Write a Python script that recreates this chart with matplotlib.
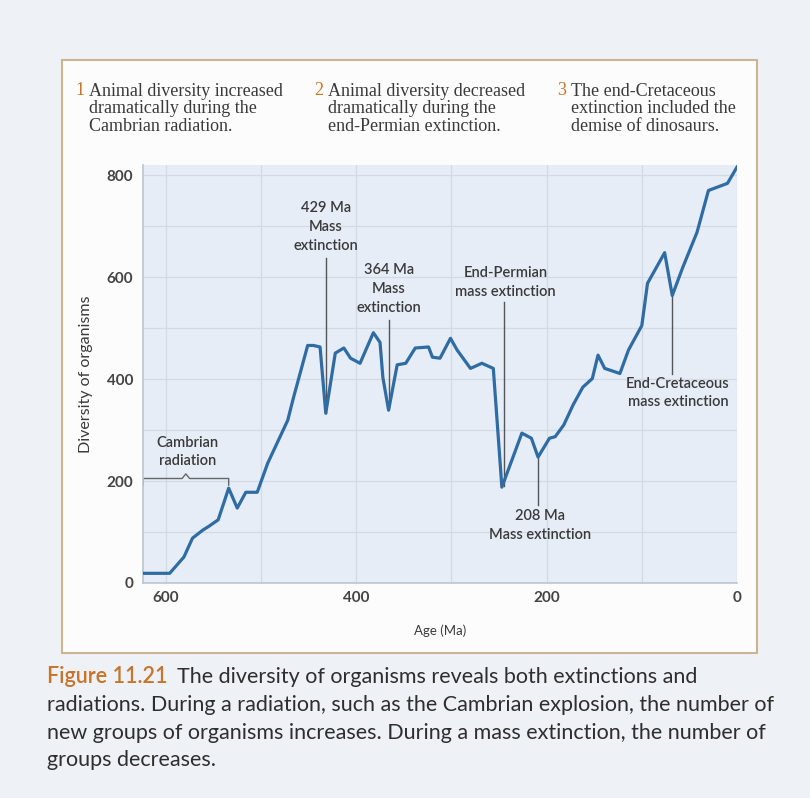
import numpy as np
import matplotlib.pyplot as plt
from matplotlib.patches import Rectangle

# 数据：年龄 (Ma) 与生物多样性
ages = [624, 596, 581, 572, 561, 555, 545, 534, 525, 516, 504, 493, 483, 472,
        466, 451, 445, 438, 432, 422, 413, 406, 396, 382, 375, 372, 366, 357,
        348, 338, 324, 320, 312, 301, 294, 280, 268, 256, 247, 226, 216, 209,
        197, 191, 182, 172, 162, 152, 146, 139, 123, 114, 100, 94, 76, 68,
        57, 42, 30, 10, 0]
diversity = [19, 19, 51, 88, 104, 111, 124, 186, 147, 178, 178, 235, 275, 319,
             363, 466, 466, 463, 333, 451, 461, 441, 431, 491, 472, 403, 339, 428,
             431, 461, 463, 443, 441, 480, 457, 421, 431, 421, 188, 294, 284, 247,
             284, 287, 310, 350, 384, 401, 447, 421, 411, 457, 505, 588, 648, 564,
             619, 688, 770, 784, 816]

x_ticks = [600, 400, 200, 0]
y_ticks = [0, 200, 400, 600, 800]

top_notes = [
    ("1", "Animal diversity increased\ndramatically during the\nCambrian radiation."),
    ("2", "Animal diversity decreased\ndramatically during the\nend-Permian extinction."),
    ("3", "The end-Cretaceous\nextinction included the\ndemise of dinosaurs."),
]

# (文字, 线的x, 文字x, 文字y, 线顶, 线底, 文字在上方?)
events = [
    ("429 Ma\nMass\nextinction", 432, 432, 648, 638, 333, True),
    ("364 Ma\nMass\nextinction", 366, 366, 525, 515, 345, True),
    ("End-Permian\nmass extinction", 245, 243, 558, 551, 190, True),
    ("End-Cretaceous\nmass extinction", 68, 62, 405, 564, 410, False),
    ("208 Ma\nMass extinction", 209, 207, 145, 247, 153, False),
]

caption_head = "Figure 11.21"
caption_first = "The diversity of organisms reveals both extinctions and"
caption_rest = ("radiations. During a radiation, such as the Cambrian explosion, the number of\n"
                "new groups of organisms increases. During a mass extinction, the number of\n"
                "groups decreases.")

orange = '#c8742a'
dark = '#3a3a3a'
sans = ['Lato', 'DejaVu Sans']
serif = ['Liberation Serif', 'DejaVu Serif']

fig = plt.figure(figsize=(8.1, 7.98), dpi=100)
fig.patch.set_facecolor('#eef1f5')

# 外框
fig.patches.append(Rectangle((62 / 810, 1 - 653 / 798), 695 / 810, 593 / 798,
                             transform=fig.transFigure, facecolor='#fcfcfc',
                             edgecolor='#c9b594', linewidth=1.5, zorder=-5))

ax = fig.add_axes([143 / 810, 1 - 583 / 798, 594 / 810, 418 / 798])
ax.set_zorder(2)
ax.set_facecolor('#e6edf7')
ax.plot(ages, diversity, color='#2f6ca3', linewidth=2.3, zorder=3)
ax.set_xlim(624, 0)
ax.set_ylim(0, 820)
ax.set_xticks(x_ticks)
ax.set_yticks(y_ticks)
ax.set_xticks(np.arange(0, 601, 100), minor=True)
ax.set_yticks(np.arange(0, 801, 100), minor=True)
ax.grid(True, which='both', color='#d2dae6', linewidth=0.9)
ax.set_axisbelow(True)
ax.tick_params(which='both', length=0)
ax.tick_params(axis='x', pad=6)
ax.tick_params(axis='y', pad=7)
for lab in ax.get_xticklabels() + ax.get_yticklabels():
    lab.set_family(sans)
    lab.set_fontsize(11)
    lab.set_fontweight('bold')
    lab.set_color('#444444')
for s in ['top', 'right']:
    ax.spines[s].set_visible(False)
for s in ['left', 'bottom']:
    ax.spines[s].set_color('#b9c5d6')
    ax.spines[s].set_linewidth(1.2)

ax.set_xlabel('Age (Ma)', family=sans, fontsize=9.5, color=dark, labelpad=14)
ax.set_ylabel('Diversity of organisms', family=sans, fontsize=11.5, color=dark, labelpad=10)

# 事件注释
for text, xl, xt, yt, y1, y2, above in events:
    ax.plot([xl, xl], [y1, y2], color='#555555', linewidth=1.0, zorder=2)
    ax.text(xt, yt, text, ha='center', va='bottom' if above else 'top',
            family=sans, fontsize=10.5, fontweight='semibold', color=dark,
            linespacing=1.45, zorder=4)

# 寒武纪辐射括号
ax.plot([624, 624, 583, 579, 575, 534, 534], [192, 205, 205, 214, 205, 205, 192],
        color='#666666', linewidth=1.0, zorder=2)
ax.text(577, 226, 'Cambrian\nradiation', ha='center', va='bottom', family=sans,
        fontsize=10.5, fontweight='semibold', color=dark, linespacing=1.35)

# 顶部说明
xs = [75, 314, 557]
for (num, txt), x0 in zip(top_notes, xs):
    fig.text(x0 / 810, 1 - 82 / 798, num, ha='left', va='top', family=serif,
             fontsize=13, color=orange)
    fig.text((x0 + 14) / 810, 1 - 83 / 798, txt, ha='left', va='top', family=serif,
             fontsize=13, color=dark, linespacing=1.02)

# 图注
head = fig.text(47 / 810, 1 - 666 / 798, caption_head, ha='left', va='top', family=sans,
                fontsize=15.5, color=orange, fontweight='semibold')
ax.annotate(caption_first, xy=(1, 0), xycoords=head, xytext=(7, 0),
            textcoords='offset points', ha='left', va='bottom', family=sans,
            fontsize=15.5, color='#2e2e2e', annotation_clip=False)
fig.text(47 / 810, 1 - 695 / 798, caption_rest, ha='left', va='top', family=sans,
         fontsize=15.5, color='#2e2e2e', linespacing=1.47)

fig.savefig('out.png', dpi=100, facecolor=fig.get_facecolor())
